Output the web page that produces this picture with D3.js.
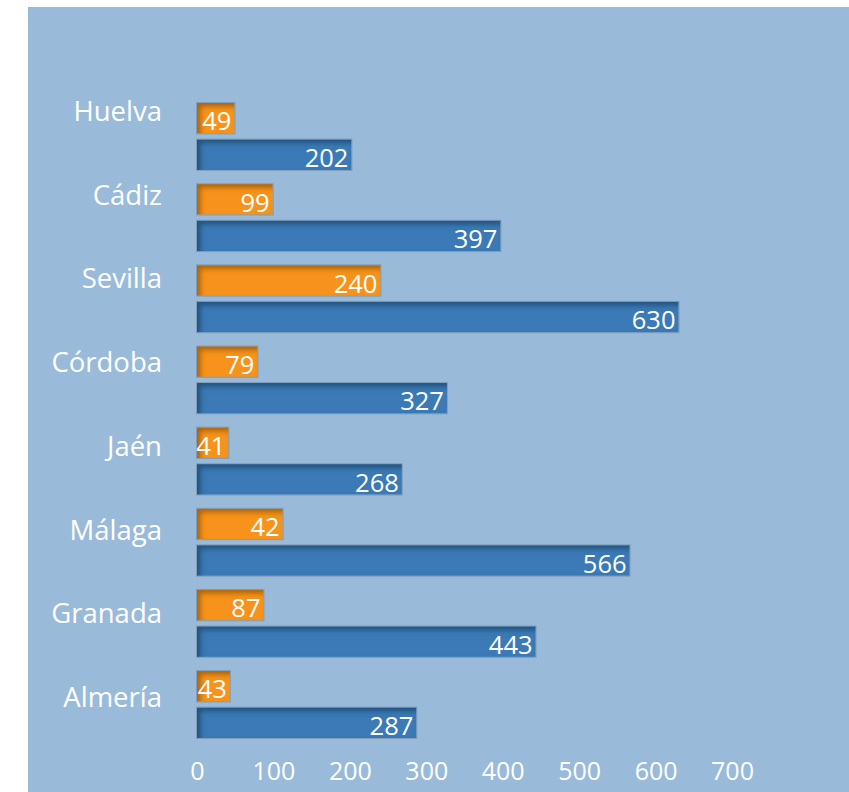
<!DOCTYPE html>
<html>
<head>
<meta charset="utf-8">
<style>
  body { margin: 0; background: #fff; }
  svg { display: block; }
  text { font-family: "Open Sans", sans-serif; fill: #fff; }
</style>
</head>
<body>
<svg width="849" height="792"></svg>
<script src="https://d3js.org/d3.v7.min.js"></script>
<script>

// provinces, top to bottom
var provincias = ["Huelva", "Cádiz", "Sevilla", "Córdoba", "Jaén", "Málaga", "Granada", "Almería"];
// orange series (upper bar of each pair) - bar lengths as drawn
var serieNaranja = [49, 99, 240, 79, 41, 112, 87, 43];
// orange labels as printed (Málaga bar is drawn longer than its label)
var etiquetasNaranja = ["49", "99", "240", "79", "41", "42", "87", "43"];
// blue series (lower bar of each pair)
var serieAzul = [202, 397, 630, 327, 268, 566, 443, 287];
var ticks = [0, 100, 200, 300, 400, 500, 600, 700];

var svg = d3.select("svg"),
    width = +svg.attr("width"),
    height = +svg.attr("height");

// inner shadow for the bars (top / left)
var defs = svg.append("defs");
var f = defs.append("filter").attr("id", "inset")
    .attr("x", "-50%").attr("y", "-50%").attr("width", "200%").attr("height", "200%");
f.append("feComponentTransfer").attr("in", "SourceAlpha").attr("result", "inv")
  .append("feFuncA").attr("type", "table").attr("tableValues", "1 0");
f.append("feGaussianBlur").attr("in", "inv").attr("stdDeviation", 2.5).attr("result", "blur");
f.append("feOffset").attr("in", "blur").attr("dx", 4).attr("dy", 4).attr("result", "off");
f.append("feFlood").attr("flood-color", "#000").attr("flood-opacity", 0.55).attr("result", "col");
f.append("feComposite").attr("in", "col").attr("in2", "off").attr("operator", "in").attr("result", "sh");
f.append("feComposite").attr("in", "sh").attr("in2", "SourceAlpha").attr("operator", "in").attr("result", "shIn");
var m = f.append("feMerge");
m.append("feMergeNode").attr("in", "SourceGraphic");
m.append("feMergeNode").attr("in", "shIn");

// panel background
svg.append("rect")
    .attr("x", 28).attr("y", 7)
    .attr("width", width - 28).attr("height", height - 7)
    .attr("fill", "#99bbd9");

var x = d3.scaleLinear().domain([0, 700]).range([197, 732]);

var y = d3.scaleBand().domain(provincias)
    .range([103, 738]).paddingInner(0.175).paddingOuter(0);

var sub = d3.scaleBand().domain(["naranja", "azul"])
    .range([0, y.bandwidth()]).paddingInner(0.17);

// category labels sit on their own spacing
var yLabel = d3.scalePoint().domain(provincias).range([121, 707]);

var datos = provincias.map(function(p, i) {
  return [
    { p: p, s: "naranja", v: serieNaranja[i], t: etiquetasNaranja[i], c: "#f7931e" },
    { p: p, s: "azul", v: serieAzul[i], t: String(serieAzul[i]), c: "#3a7ab6" }
  ];
}).flat();

var bars = svg.append("g").selectAll("g")
  .data(datos)
  .enter().append("g")
    .attr("transform", function(d) { return "translate(0," + (y(d.p) + sub(d.s)) + ")"; });

bars.append("rect")
    .attr("x", x(0))
    .attr("width", function(d) { return x(d.v) - x(0); })
    .attr("height", sub.bandwidth())
    .attr("fill", function(d) { return d.c; })
    .attr("filter", "url(#inset)");

bars.append("rect")
    .attr("x", x(0) - 0.5)
    .attr("y", -0.5)
    .attr("width", function(d) { return x(d.v) - x(0) + 1; })
    .attr("height", sub.bandwidth() + 1)
    .attr("fill", "none")
    .attr("stroke", "#6f8aa6")
    .attr("stroke-opacity", 0.6)
    .attr("stroke-width", 1);

bars.append("text")
    .attr("x", function(d) { return x(d.v) - 3; })
    .attr("y", sub.bandwidth() - 3)
    .attr("text-anchor", "end")
    .attr("font-size", 25.5)
    .text(function(d) { return d.t; });

// province names
svg.append("g").selectAll("text")
  .data(provincias)
  .enter().append("text")
    .attr("x", 162)
    .attr("y", function(d) { return yLabel(d); })
    .attr("text-anchor", "end")
    .attr("font-size", 27.5)
    .attr("fill", "#f5f7fa")
    .text(function(d) { return d; });

// x axis labels
var axis = d3.axisBottom(x).tickValues(ticks).tickSize(0).tickPadding(0);
var gx = svg.append("g").attr("transform", "translate(0,762)").call(axis);
gx.select(".domain").remove();
gx.selectAll("text")
    .attr("font-size", 25)
    .attr("font-family", "'Open Sans', sans-serif")
    .attr("fill", "#fff");

</script>
</body>
</html>
